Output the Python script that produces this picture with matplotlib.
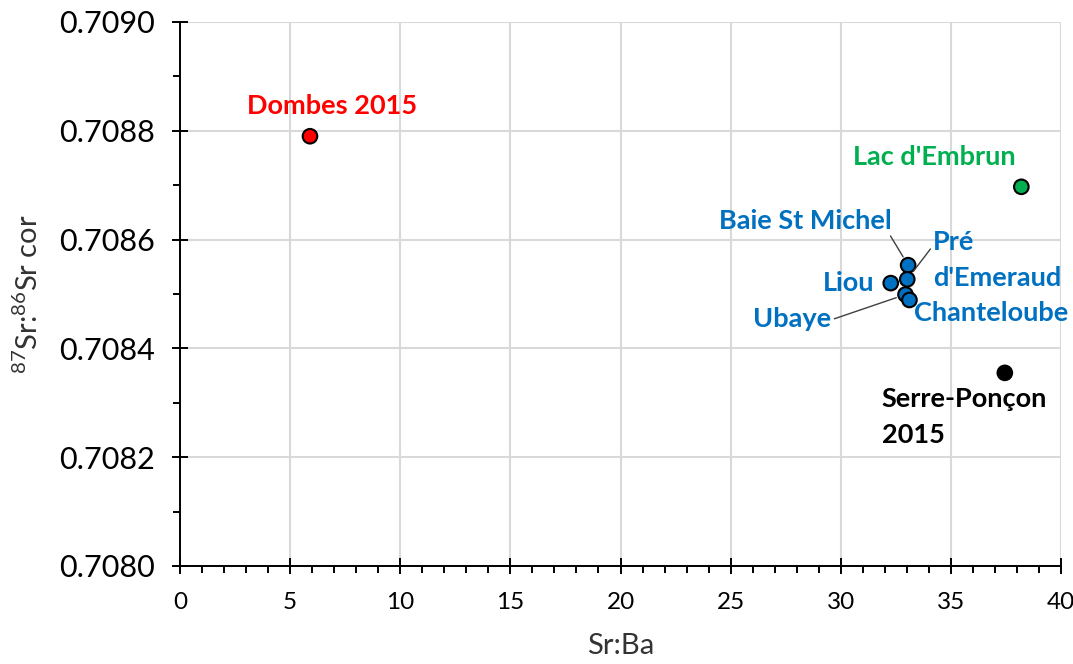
import numpy as np
import matplotlib.pyplot as plt
from matplotlib.ticker import MultipleLocator, FormatStrFormatter

plt.rcParams['font.family'] = ['Lato', 'DejaVu Sans']
plt.rcParams['mathtext.fontset'] = 'custom'
plt.rcParams['mathtext.rm'] = 'Lato'
plt.rcParams['mathtext.it'] = 'Lato'

# Sr:Ba vs 87Sr/86Sr
names = ['Dombes 2015', "Lac d'Embrun", 'Serre-Ponçon\n2015', 'Baie St Michel',
         "Pré\nd'Emeraud", 'Liou', 'Ubaye', 'Chanteloube']
sr_ba = [5.9, 38.2, 37.45, 33.06, 33.02, 32.27, 32.94, 33.12]
sr_ratio = [0.70879, 0.708697, 0.708355, 0.708553, 0.708527, 0.70852, 0.708499, 0.708489]
colors = ['#FF0000', '#00B050', '#000000', '#0070C0', '#0070C0', '#0070C0', '#0070C0', '#0070C0']
text_colors = ['#FF0000', '#00B050', '#000000', '#0070C0', '#0070C0', '#0070C0', '#0070C0', '#0070C0']

fig = plt.figure(figsize=(10.73, 6.64), dpi=100)
ax = fig.add_axes([0.1678, 0.1476, 0.821, 0.8193])

ax.scatter(sr_ba, sr_ratio, s=110, c=colors, edgecolors='black', linewidths=1.5, zorder=3)

# label placement: offset in pixels, alignment, leader line start (relpos) or None
lab = [
    ((22, 30), 'center', 'center', None),
    ((-87, 30), 'center', 'center', None),
    ((-123, -44), 'left', 'center', None),
    ((-103, 44), 'center', 'center', (0.98, 0.05)),
    ((26, 19), 'left', 'center', (0.0, 0.75)),
    ((-16, 0), 'right', 'center', None),
    ((-113, -24), 'center', 'center', (1.0, 0.45)),
    ((5, -13), 'left', 'center', None),
]
for i, name in enumerate(names):
    off, ha, va, rel = lab[i]
    kw = {}
    if rel is not None:
        kw['arrowprops'] = dict(arrowstyle='-', color='#404040', lw=1.0,
                                relpos=rel, shrinkA=0, shrinkB=7)
    ax.annotate(name, (sr_ba[i], sr_ratio[i]), xytext=off, textcoords='offset pixels',
                ha=ha, va=va, fontsize=19.5, fontweight='bold', color=text_colors[i],
                linespacing=1.6, zorder=4, **kw)

ax.set_xlim(0, 40)
ax.set_ylim(0.7080, 0.7090)
ax.xaxis.set_major_locator(MultipleLocator(5))
ax.xaxis.set_minor_locator(MultipleLocator(1))
ax.yaxis.set_major_locator(MultipleLocator(0.0002))
ax.yaxis.set_minor_locator(MultipleLocator(0.0001))
ax.yaxis.set_major_formatter(FormatStrFormatter('%.4f'))

ax.grid(True, which='major', color='#D9D9D9', lw=1.5)
ax.set_axisbelow(True)
for s in ['top', 'right']:
    ax.spines[s].set_visible(False)
for s in ['left', 'bottom']:
    ax.spines[s].set_linewidth(1.4)
    ax.spines[s].set_zorder(2.5)

ax.tick_params(which='major', direction='inout', length=12, width=1.4, labelsize=22,
               colors='black')
ax.tick_params(which='minor', direction='out', length=5, width=1.4)
ax.tick_params(axis='y', which='major', pad=12)
ax.tick_params(axis='x', which='major', pad=13, labelsize=17.5)

ax.set_xlabel('Sr:Ba', fontsize=21, color='#333333', labelpad=14)
ax.set_ylabel(r'$^{87}$Sr:$^{86}$Sr cor', fontsize=21, color='#333333', labelpad=12)

fig.savefig('out.png', dpi=100)
